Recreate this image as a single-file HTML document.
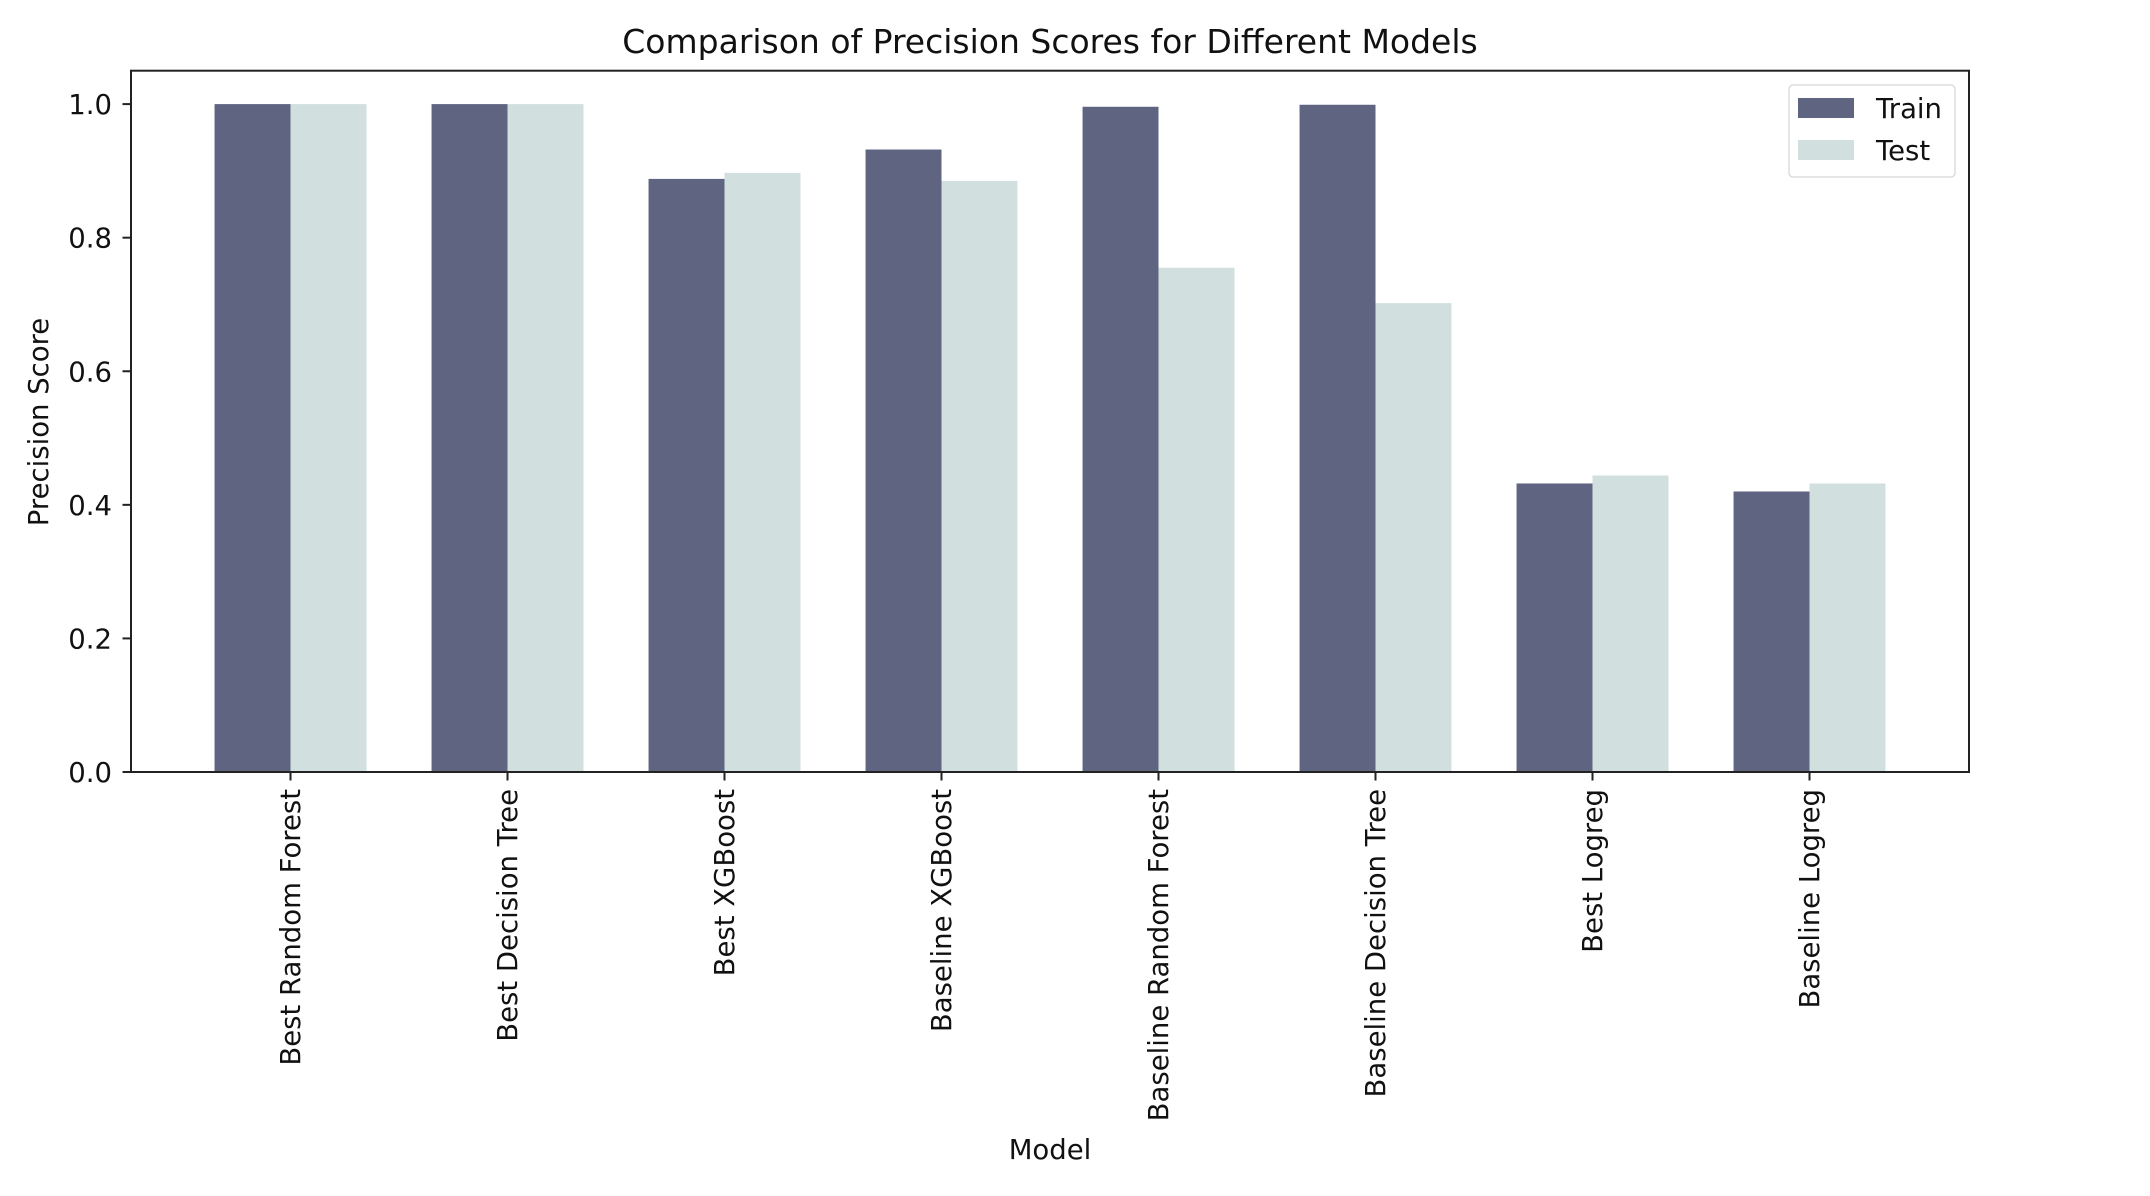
<!DOCTYPE html>
<html><head><meta charset="utf-8"><style>
html,body{margin:0;padding:0;background:#fff;}
svg{display:block;font-family:"DejaVu Sans","Liberation Sans",sans-serif;}
</style></head><body>
<svg id="chart" width="2150" height="1196" viewBox="0 0 2150 1196" xmlns="http://www.w3.org/2000/svg">
<rect x="0" y="0" width="2150" height="1196" fill="#fff"/>
<text x="1050" y="53" font-size="33" text-anchor="middle" fill="#111">Comparison of Precision Scores for Different Models</text>
<g id="bars"></g>
<g id="yticks"></g>
<g id="xticks"></g>
<rect x="131" y="70.7" width="1838" height="701.3" fill="none" stroke="#222" stroke-width="2"/>
<text transform="translate(48,422) rotate(-90)" font-size="27.5" text-anchor="middle" fill="#111">Precision Score</text>
<text x="1050" y="1159" font-size="27.5" text-anchor="middle" fill="#111">Model</text>
<g>
<rect x="1789" y="85" width="166" height="92" rx="4" fill="#fff" fill-opacity="0.8" stroke="#ddd" stroke-width="1.5"/>
<rect x="1798" y="98" width="56" height="20" fill="#5f6480"/>
<text x="1876" y="118" font-size="27.5" fill="#111">Train</text>
<rect x="1798" y="140" width="56" height="20" fill="#d1dfdf"/>
<text x="1876" y="160" font-size="27.5" fill="#111">Test</text>
</g>
</svg>
<script>
const categories = ["Best Random Forest","Best Decision Tree","Best XGBoost","Baseline XGBoost","Baseline Random Forest","Baseline Decision Tree","Best Logreg","Baseline Logreg"];
const trainValues = [1.0, 1.0, 0.888, 0.932, 0.996, 0.999, 0.432, 0.420];
const testValues = [1.0, 1.0, 0.897, 0.885, 0.755, 0.702, 0.444, 0.432];
const yTickValues = [0.0, 0.2, 0.4, 0.6, 0.8, 1.0];
const yTickLabels = ["0.0","0.2","0.4","0.6","0.8","1.0"];

const NS = "http://www.w3.org/2000/svg";
const plot = {left:131, right:1969, top:70.7, bottom:772};
const barW = 0.35;
const n = categories.length;
const xMin = -barW - 0.05*((n-1)+2*barW), xMax = (n-1)+barW + 0.05*((n-1)+2*barW);
const yMin = 0, yMax = 1.05;
function xs(v){return plot.left + (v - xMin)/(xMax - xMin)*(plot.right-plot.left);}
function ys(v){return plot.bottom - (v - yMin)/(yMax - yMin)*(plot.bottom-plot.top);}
function mk(tag, attrs){const e=document.createElementNS(NS,tag);for(const k in attrs)e.setAttribute(k,attrs[k]);return e;}

const barsG = document.getElementById('bars');
categories.forEach((c,i)=>{
  const tr = mk('rect',{x:xs(i-barW), y:ys(trainValues[i]), width:xs(i)-xs(i-barW), height:ys(0)-ys(trainValues[i]), fill:'#5f6480'});
  
  
  barsG.appendChild(tr);
  const te = mk('rect',{x:xs(i), y:ys(testValues[i]), width:xs(i+barW)-xs(i), height:ys(0)-ys(testValues[i]), fill:'#d1dfdf'});
  
  
  barsG.appendChild(te);
});

const yG = document.getElementById('yticks');
yTickValues.forEach((v,i)=>{
  const y = ys(v);
  const l = mk('line',{x1:plot.left-8.5, x2:plot.left, y1:y, y2:y, stroke:'#222', 'stroke-width':2});
  
  
  yG.appendChild(l);
  const t = mk('text',{x:plot.left-19, y:y+10, 'font-size':27.5, 'text-anchor':'end', fill:'#111'});
  
  
  t.textContent = yTickLabels[i];
  yG.appendChild(t);
});

const xG = document.getElementById('xticks');
categories.forEach((c,i)=>{
  const x = xs(i);
  const l = mk('line',{x1:x, x2:x, y1:plot.bottom, y2:plot.bottom+8.5, stroke:'#222', 'stroke-width':2});
  
  
  xG.appendChild(l);
  const t = mk('text',{transform:'translate('+(x+9.5)+','+(plot.bottom+17)+') rotate(-90)', 'font-size':27.5, 'text-anchor':'end', fill:'#111'});
  
  
  t.textContent = c;
  xG.appendChild(t);
});
</script>
</body></html>
